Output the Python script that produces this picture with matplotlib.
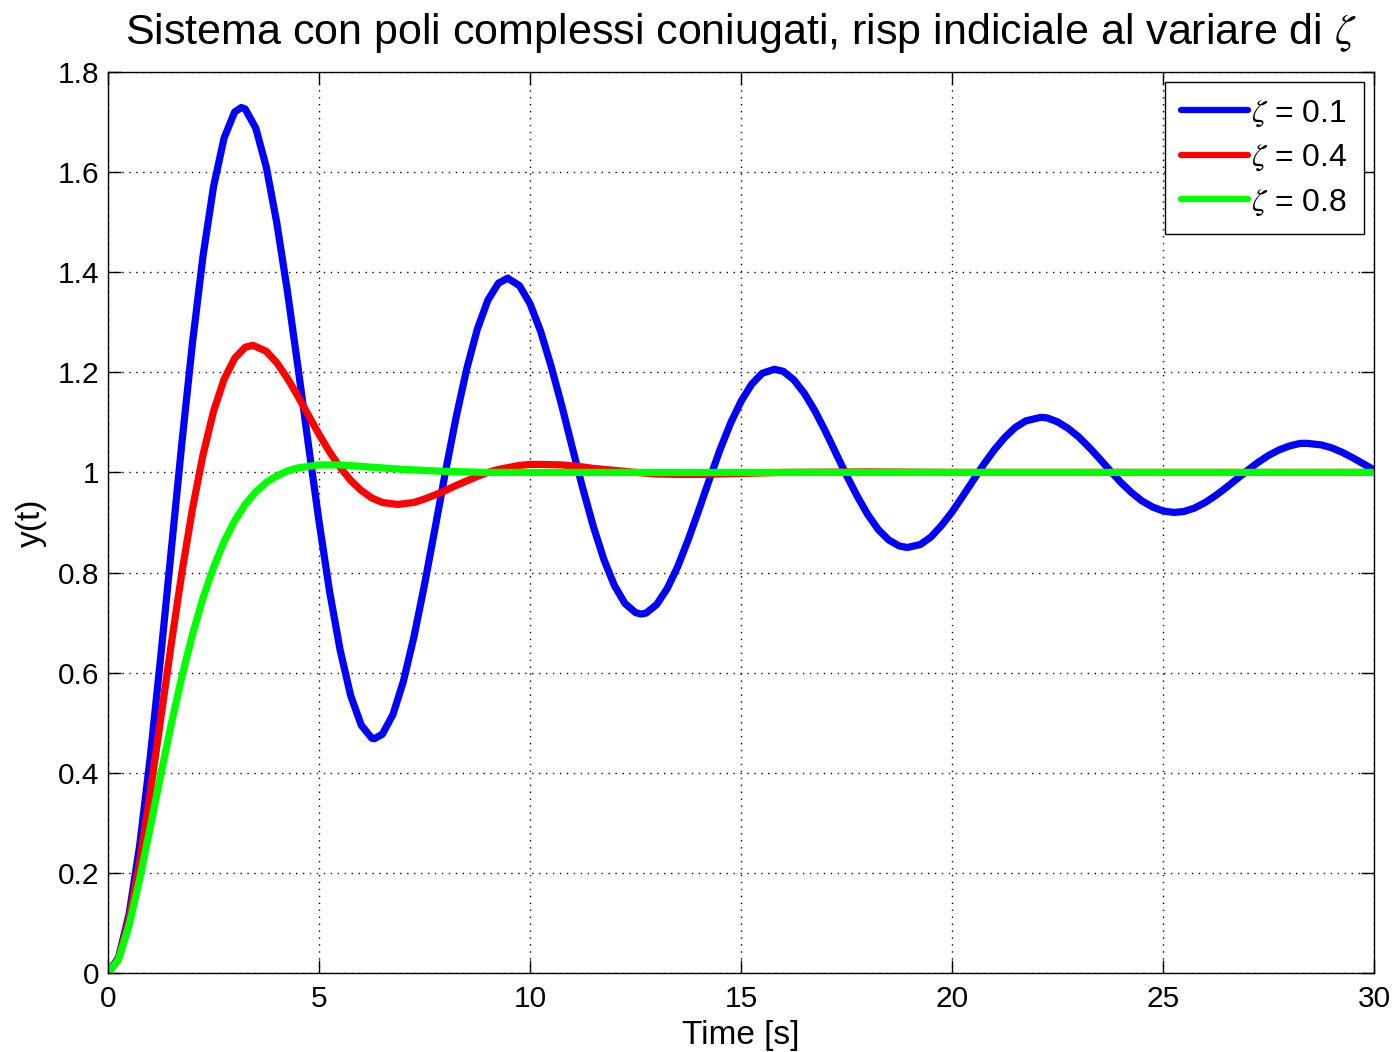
import matplotlib
matplotlib.use("Agg")
import matplotlib.pyplot as plt

plt.rcParams["font.family"] = ["Liberation Sans", "DejaVu Sans"]
plt.rcParams["mathtext.fontset"] = "stix"

# step response, one series per damping value
t_z01 = [0, 0.25, 0.5, 0.75, 1, 1.25, 1.5, 1.75, 2, 2.25, 2.5, 2.75, 3, 3.16,
         3.25, 3.5, 3.75, 4, 4.25, 4.5, 4.75, 5, 5.25, 5.5, 5.75, 6, 6.25,
         6.31, 6.5, 6.75, 7, 7.25, 7.5, 7.75, 8, 8.25, 8.5, 8.75, 9, 9.25,
         9.47, 9.75, 10, 10.25, 10.5, 10.75, 11, 11.25, 11.5, 11.75, 12,
         12.25, 12.5, 12.63, 12.75, 13, 13.25, 13.5, 13.75, 14, 14.25, 14.5,
         14.75, 15, 15.25, 15.5, 15.79, 16, 16.25, 16.5, 16.75, 17, 17.25,
         17.5, 17.75, 18, 18.25, 18.5, 18.75, 18.94, 19.25, 19.5, 19.75, 20,
         20.25, 20.5, 20.75, 21, 21.25, 21.5, 21.75, 22.1, 22.25, 22.5, 22.75,
         23, 23.25, 23.5, 23.75, 24, 24.25, 24.5, 24.75, 25, 25.26, 25.5,
         25.75, 26, 26.25, 26.5, 26.75, 27, 27.25, 27.5, 27.75, 28, 28.25,
         28.42, 28.75, 29, 29.25, 29.5, 29.75, 30]
y_z01 = [0.000, 0.031, 0.118, 0.255, 0.431, 0.633, 0.846, 1.059, 1.258, 1.432,
         1.571, 1.668, 1.720, 1.729, 1.726, 1.688, 1.610, 1.498, 1.362, 1.211,
         1.054, 0.902, 0.762, 0.645, 0.554, 0.495, 0.469, 0.468, 0.477, 0.516,
         0.583, 0.672, 0.776, 0.889, 1.003, 1.111, 1.207, 1.286, 1.344, 1.378,
         1.388, 1.373, 1.337, 1.282, 1.212, 1.134, 1.050, 0.968, 0.892, 0.826,
         0.774, 0.738, 0.720, 0.717, 0.719, 0.736, 0.768, 0.812, 0.866, 0.925,
         0.986, 1.045, 1.098, 1.142, 1.176, 1.198, 1.206, 1.202, 1.185, 1.158,
         1.123, 1.082, 1.038, 0.994, 0.953, 0.916, 0.886, 0.865, 0.853, 0.850,
         0.856, 0.871, 0.894, 0.921, 0.952, 0.984, 1.016, 1.045, 1.070, 1.090,
         1.103, 1.110, 1.109, 1.101, 1.088, 1.071, 1.050, 1.027, 1.003, 0.980,
         0.960, 0.943, 0.931, 0.923, 0.920, 0.922, 0.929, 0.940, 0.954, 0.970,
         0.987, 1.004, 1.020, 1.034, 1.045, 1.053, 1.058, 1.058, 1.055, 1.049,
         1.040, 1.029, 1.017, 1.005]

t_z04 = [0, 0.25, 0.5, 0.75, 1, 1.25, 1.5, 1.75, 2, 2.25, 2.5, 2.75, 3, 3.25,
         3.43, 3.75, 4, 4.25, 4.5, 4.75, 5, 5.25, 5.5, 5.75, 6, 6.25, 6.5,
         6.86, 7.25, 7.5, 7.75, 8, 8.25, 8.5, 8.75, 9, 9.25, 9.5, 9.75, 10,
         10.28, 10.75, 11, 11.25, 11.5, 12, 12.5, 13, 13.5, 14, 15, 16, 18,
         20, 30]
y_z04 = [0.000, 0.029, 0.108, 0.222, 0.360, 0.509, 0.658, 0.800, 0.927, 1.035,
         1.122, 1.186, 1.228, 1.250, 1.254, 1.242, 1.219, 1.188, 1.152, 1.114,
         1.076, 1.041, 1.010, 0.984, 0.964, 0.949, 0.940, 0.936, 0.940, 0.947,
         0.955, 0.964, 0.974, 0.983, 0.992, 1.000, 1.006, 1.010, 1.014, 1.016,
         1.016, 1.015, 1.013, 1.011, 1.008, 1.004, 1.000, 0.997, 0.996, 0.996,
         0.998, 1.000, 1.001, 1.000, 1.000]

t_z08 = [0, 0.25, 0.5, 0.75, 1, 1.25, 1.5, 1.75, 2, 2.25, 2.5, 2.75, 3, 3.25,
         3.5, 3.75, 4, 4.25, 4.5, 5, 5.24, 5.5, 6, 6.5, 7, 7.5, 8, 9, 10, 30]
y_z08 = [0.000, 0.027, 0.096, 0.188, 0.291, 0.397, 0.498, 0.592, 0.676, 0.749,
         0.810, 0.862, 0.903, 0.936, 0.961, 0.980, 0.993, 1.003, 1.009, 1.015,
         1.015, 1.015, 1.012, 1.009, 1.006, 1.004, 1.002, 1.000, 1.000, 1.000]

series = [
    (t_z01, y_z01, "#0000ff", r"$\zeta$ = 0.1"),
    (t_z04, y_z04, "#ff0000", r"$\zeta$ = 0.4"),
    (t_z08, y_z08, "#00ff00", r"$\zeta$ = 0.8"),
]

y_ticks = [0, 0.2, 0.4, 0.6, 0.8, 1.0, 1.2, 1.4, 1.6, 1.8]
y_tick_labels = ["0", "0.2", "0.4", "0.6", "0.8", "1", "1.2", "1.4", "1.6", "1.8"]
x_ticks = [0, 5, 10, 15, 20, 25, 30]

fig = plt.figure(figsize=(13.94, 10.52), dpi=100)
ax = fig.add_axes([0.0775, 0.0751, 0.9082, 0.8565])

for t, y, color, label in series:
    ax.plot(t, y, color=color, lw=5.2, label=label,
            solid_joinstyle="round", solid_capstyle="round")

ax.set_xlim(0, 30)
ax.set_ylim(0, 1.8)
ax.set_xticks(x_ticks)
ax.set_xticklabels([str(v) for v in x_ticks])
ax.set_yticks(y_ticks)
ax.set_yticklabels(y_tick_labels)
ax.tick_params(direction="in", length=9.5, width=1, top=True, right=True,
               labelsize=21.5)
ax.tick_params(axis="x", pad=9)
ax.tick_params(axis="y", pad=6)
ax.grid(True, color="black", linestyle=(0, (1, 4)), linewidth=1)
for sp in ax.spines.values():
    sp.set_linewidth(1)

ax.set_xlabel("Time [s]", fontsize=24, labelpad=5)
ax.set_ylabel("y(t)", fontsize=24, labelpad=8)
ax.set_title(r"Sistema con poli complessi coniugati, risp indiciale al variare di $\zeta$",
             fontsize=31, pad=20)

leg = ax.legend(loc="upper right", fontsize=23, handlelength=2.1,
                handletextpad=0.1, borderaxespad=0.33, borderpad=0.5,
                labelspacing=0.45, fancybox=False, edgecolor="black",
                framealpha=1)
leg.get_frame().set_linewidth(1)
for line in leg.get_lines():
    line.set_linewidth(4.5)

fig.savefig("out.png", dpi=100)
